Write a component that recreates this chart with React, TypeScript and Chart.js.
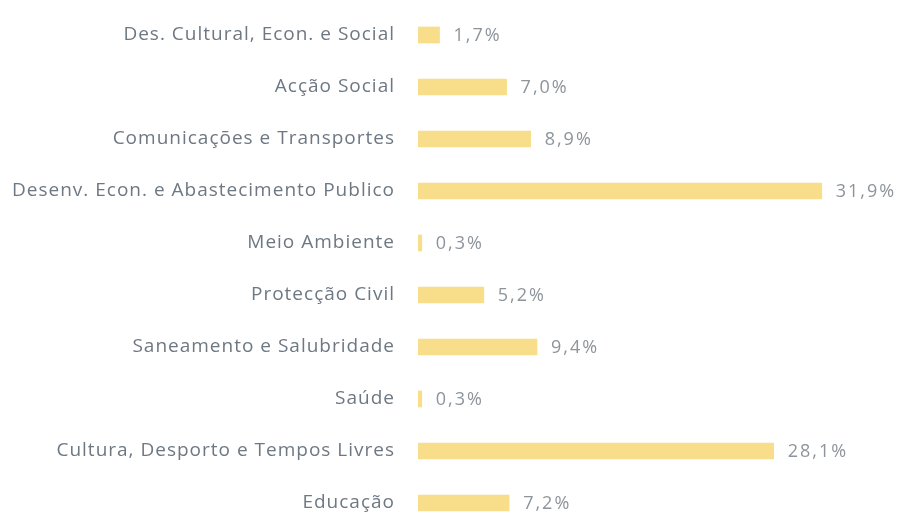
import React, { useEffect, useRef } from "react";
import { Chart, registerables } from "chart.js";

Chart.register(...registerables);

const categories = [
  "Des. Cultural, Econ. e Social",
  "Acção Social",
  "Comunicações e Transportes",
  "Desenv. Econ. e Abastecimento Publico",
  "Meio Ambiente",
  "Protecção Civil",
  "Saneamento e Salubridade",
  "Saúde",
  "Cultura, Desporto e Tempos Livres",
  "Educação",
];
const values = [1.7, 7.0, 8.9, 31.9, 0.3, 5.2, 9.4, 0.3, 28.1, 7.2];

const spacing = {
  id: "spacing",
  beforeDraw(chart: any) {
    chart.ctx.letterSpacing = "1px";
  },
};

const valueLabels = {
  id: "valueLabels",
  afterDatasetsDraw(chart: any) {
    const ctx = chart.ctx;
    const meta = chart.getDatasetMeta(0);
    ctx.save();
    ctx.letterSpacing = "2px";
    ctx.font = "18px 'Open Sans'";
    ctx.fillStyle = "#8d949c";
    ctx.textAlign = "left";
    ctx.textBaseline = "middle";
    meta.data.forEach((bar: any, i: number) => {
      const txt = values[i].toFixed(1).replace(".", ",") + "%";
      ctx.fillText(txt, bar.x + 14, bar.y + 1);
    });
    ctx.restore();
  },
};

export default function App() {
  const ref = useRef<HTMLCanvasElement>(null);
  useEffect(() => {
    const chart = new Chart(ref.current!, {
      type: "bar",
      data: {
        labels: categories,
        datasets: [
          {
            data: values,
            backgroundColor: "#f8de8a",
            barThickness: 16,
          },
        ],
      },
      options: {
        indexAxis: "y",
        animation: false,
        responsive: false,
        layout: { padding: { top: 9, bottom: 1, left: 0, right: 8 } },
        plugins: { legend: { display: false }, tooltip: { enabled: false } },
        scales: {
          x: { display: false, min: 0, max: 38 },
          y: {
            grid: { display: false, drawTicks: false },
            border: { display: false },
            ticks: {
              padding: 23,
              color: "#6e7882",
              font: { family: "'Open Sans'", size: 19 },
            },
            afterFit(scale: any) {
              scale.width = 418;
              scale.paddingTop = 0;
              scale.paddingBottom = 0;
            },
          },
        },
      },
      plugins: [spacing, valueLabels],
    });
    return () => chart.destroy();
  }, []);
  return (
    <div style={{ position: "absolute", left: 0, top: 0, width: 907, height: 530, background: "#fff" }}>
      <canvas ref={ref} width={907} height={530} />
    </div>
  );
}
